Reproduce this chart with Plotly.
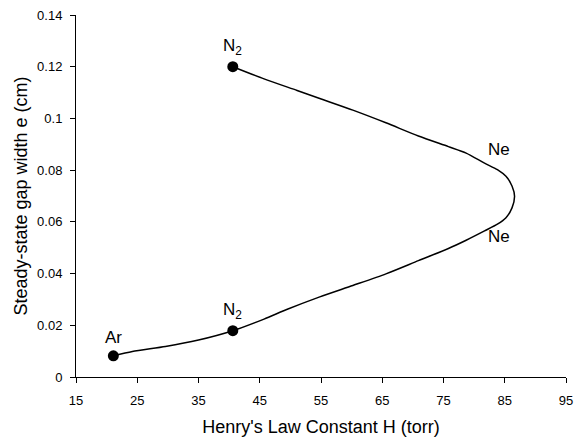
import plotly.graph_objects as go

# Curve (Henry's law constant H in torr, steady-state gap width e in cm)
curve_H = [40.6, 45.7, 51.1, 54.8, 60.2, 65.6, 70.9, 75.8, 78.7, 81.7, 83.8, 85.2, 86.2, 86.6,
           86.2, 85.2, 83.8, 81.7, 78.7, 75.8, 70.9, 65.6, 60.2, 54.8, 49.5, 45.7, 40.6,
           35.0, 29.6, 24.2, 21.1]
curve_e = [0.1200, 0.1153, 0.1108, 0.1077, 0.1032, 0.0983, 0.0932, 0.0891, 0.0866, 0.0827,
           0.0802, 0.0776, 0.0738, 0.0699, 0.0655, 0.0616, 0.0591, 0.0565, 0.0529, 0.0497,
           0.0450, 0.0399, 0.0354, 0.0310, 0.0262, 0.0224, 0.0179, 0.0143, 0.0118, 0.0099,
           0.0082]

# Gas points
gas_H = [21.1, 40.6, 40.6]
gas_e = [0.0082, 0.0179, 0.1200]
gas_labels = ["Ar", "N<sub>2</sub>", "N<sub>2</sub>"]

# Ne labels
ne_H = [84.1, 84.1]
ne_e = [0.0878, 0.0545]

x_ticks = [15, 25, 35, 45, 55, 65, 75, 85, 95]
y_ticks = [0, 0.02, 0.04, 0.06, 0.08, 0.1, 0.12, 0.14]
y_tick_text = ["0", "0.02", "0.04", "0.06", "0.08", "0.1", "0.12", "0.14"]

FONT = "Liberation Sans, Arial, sans-serif"

fig = go.Figure()
fig.add_trace(go.Scatter(x=curve_H, y=curve_e, mode="lines",
                         line=dict(color="black", width=1.5, shape="spline", smoothing=0.7),
                         showlegend=False, hoverinfo="skip"))
fig.add_trace(go.Scatter(x=gas_H, y=gas_e, mode="markers",
                         marker=dict(color="black", size=11),
                         showlegend=False))

for h, e, t in zip(gas_H, gas_e, gas_labels):
    fig.add_annotation(x=h, y=e, text=t, showarrow=False, xanchor="center",
                       yanchor="bottom", yshift=7,
                       font=dict(family=FONT, size=17, color="black"))
for h, e in zip(ne_H, ne_e):
    fig.add_annotation(x=h, y=e, text="Ne", showarrow=False, xanchor="center",
                       yanchor="middle",
                       font=dict(family=FONT, size=17, color="black"))

axis_common = dict(showgrid=False, zeroline=False, showline=True, linecolor="black",
                   linewidth=1, ticks="outside", ticklen=5, tickcolor="black",
                   ticklabeloverflow="allow",
                   tickfont=dict(family=FONT, size=13, color="black"))

fig.update_xaxes(range=[15, 95], tickvals=x_ticks, ticktext=[str(v) for v in x_ticks],
                 ticklabelstandoff=6,
                 title=dict(text="Henry's Law Constant H (torr)",
                            font=dict(family=FONT, size=18, color="black"), standoff=13),
                 **axis_common)
fig.update_yaxes(range=[0, 0.14], tickvals=y_ticks, ticktext=y_tick_text,
                 ticklabelstandoff=5,
                 title=dict(text="Steady-state gap width e (cm)",
                            font=dict(family=FONT, size=18, color="black"), standoff=4),
                 **axis_common)

fig.update_layout(width=581, height=441, plot_bgcolor="white", paper_bgcolor="white",
                  margin=dict(l=76, r=8, t=14, b=62), font=dict(family=FONT))

fig.write_html("out.html", config={"displayModeBar": False},
               post_script="document.body.style.margin='0';")
